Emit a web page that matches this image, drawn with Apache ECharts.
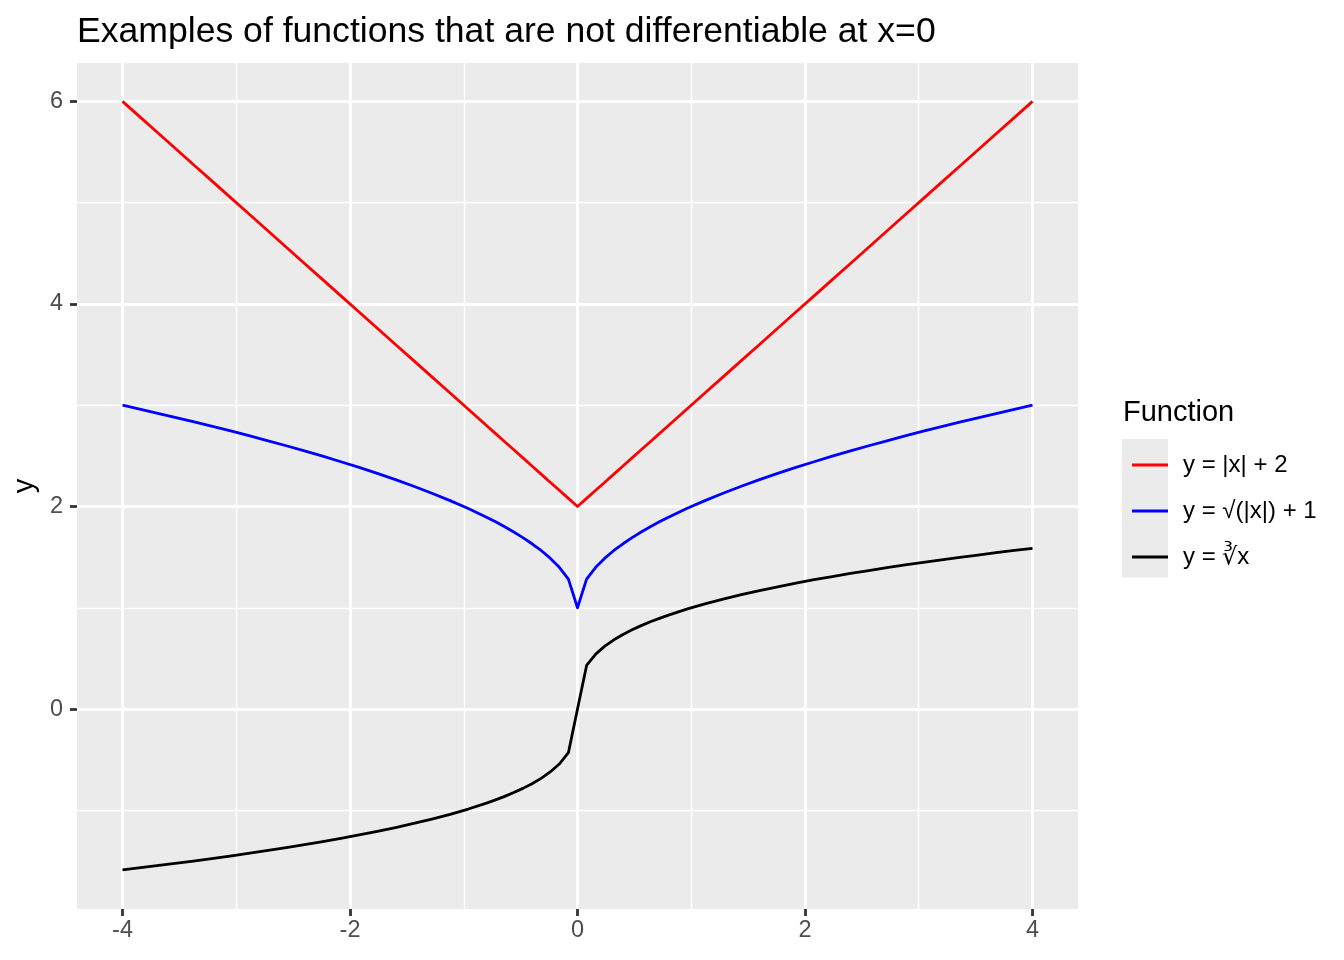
<!DOCTYPE html>
<html>
<head>
<meta charset="utf-8">
<script src="https://cdn.jsdelivr.net/npm/echarts@6/dist/echarts.min.js"></script>
<style>
html,body{margin:0;padding:0;background:#fff;}
#chart{width:1344px;height:960px;}
</style>
</head>
<body>
<div id="chart"></div>
<script>
// ---- data ----
const xValues = [-4, -3.84, -3.68, -3.52, -3.36, -3.2, -3.04, -2.88, -2.72, -2.56, -2.4, -2.24, -2.08, -1.92, -1.76, -1.6, -1.44, -1.28, -1.12, -0.96,
  -0.8, -0.72, -0.64, -0.56, -0.48, -0.4, -0.32, -0.24, -0.16, -0.08, 0,
  0.08, 0.16, 0.24, 0.32, 0.4, 0.48, 0.56, 0.64, 0.72, 0.8,
  0.96, 1.12, 1.28, 1.44, 1.6, 1.76, 1.92, 2.08, 2.24, 2.4, 2.56, 2.72, 2.88, 3.04, 3.2, 3.36, 3.52, 3.68, 3.84, 4];
const absPlus2 = [6.00, 5.84, 5.68, 5.52, 5.36, 5.20, 5.04, 4.88, 4.72, 4.56, 4.40, 4.24, 4.08, 3.92, 3.76, 3.60, 3.44, 3.28, 3.12, 2.96,
  2.80, 2.72, 2.64, 2.56, 2.48, 2.40, 2.32, 2.24, 2.16, 2.08, 2.00,
  2.08, 2.16, 2.24, 2.32, 2.40, 2.48, 2.56, 2.64, 2.72, 2.80,
  2.96, 3.12, 3.28, 3.44, 3.60, 3.76, 3.92, 4.08, 4.24, 4.40, 4.56, 4.72, 4.88, 5.04, 5.20, 5.36, 5.52, 5.68, 5.84, 6.00];
const sqrtAbsPlus1 = [3.000, 2.960, 2.918, 2.876, 2.833, 2.789, 2.744, 2.697, 2.649, 2.600, 2.549, 2.497, 2.442, 2.386, 2.327, 2.265, 2.200, 2.131, 2.058, 1.980,
  1.894, 1.849, 1.800, 1.748, 1.693, 1.632, 1.566, 1.490, 1.400, 1.283, 1.000,
  1.283, 1.400, 1.490, 1.566, 1.632, 1.693, 1.748, 1.800, 1.849, 1.894,
  1.980, 2.058, 2.131, 2.200, 2.265, 2.327, 2.386, 2.442, 2.497, 2.549, 2.600, 2.649, 2.697, 2.744, 2.789, 2.833, 2.876, 2.918, 2.960, 3.000];
const cubeRoot = [-1.587, -1.566, -1.544, -1.521, -1.498, -1.474, -1.449, -1.423, -1.396, -1.368, -1.339, -1.308, -1.277, -1.243, -1.207, -1.170, -1.129, -1.086, -1.039, -0.987,
  -0.928, -0.896, -0.862, -0.824, -0.783, -0.737, -0.684, -0.621, -0.543, -0.431, 0,
  0.431, 0.543, 0.621, 0.684, 0.737, 0.783, 0.824, 0.862, 0.896, 0.928,
  0.987, 1.039, 1.086, 1.129, 1.170, 1.207, 1.243, 1.277, 1.308, 1.339, 1.368, 1.396, 1.423, 1.449, 1.474, 1.498, 1.521, 1.544, 1.566, 1.587];
const seriesNames = ['y = |x| + 2', 'y = √(|x|) + 1', 'y = ∛x'];
const seriesColors = ['#FF0000', '#0000FF', '#000000'];
const xMajorTicks = [-4, -2, 0, 2, 4];
const xMinorTicks = [-3, -1, 1, 3];
const yMajorTicks = [0, 2, 4, 6];
const yMinorTicks = [-1, 1, 3, 5];

const FONT = "'Liberation Sans', Arial, Helvetica, sans-serif";
const pairs = ys => xValues.map((x, i) => [x, ys[i]]);
const allSeries = [absPlus2, sqrtAbsPlus1, cubeRoot];

const X_MIN = -4.4, X_MAX = 4.4, Y_MIN = -1.974, Y_MAX = 6.379;

const chart = echarts.init(document.getElementById('chart'), null, {renderer: 'canvas'});
chart.setOption({
  animation: false,
  backgroundColor: '#ffffff',
  title: [
    {
      text: 'Examples of functions that are not differentiable at x=0',
      left: 77, top: 14, padding: 0,
      textStyle: {fontFamily: FONT, fontSize: 35.6, fontWeight: 'normal', color: '#000000'}
    },
    {
      text: 'Function',
      left: 1123, top: 398, padding: 0,
      textStyle: {fontFamily: FONT, fontSize: 29, fontWeight: 'normal', color: '#000000'}
    }
  ],
  grid: {
    left: 77, right: 266, top: 63, bottom: 51,
    show: true, backgroundColor: '#EBEBEB', borderWidth: 0,
    outerBoundsMode: 'none', containLabel: false
  },
  legend: {
    orient: 'vertical',
    left: 1127, top: 448,
    itemWidth: 36, itemHeight: 3, itemGap: 22,
    icon: 'rect',
    selectedMode: false,
    data: seriesNames,
    textStyle: {fontFamily: FONT, fontSize: 24, color: '#000000', lineHeight: 24, padding: [0, 0, 0, 10]}
  },
  graphic: [
    {type: 'rect', left: 1122, top: 439, z: -1, shape: {width: 46, height: 138.5}, style: {fill: '#EBEBEB'}}
  ],
  xAxis: [
    {
      type: 'value', min: X_MIN, max: X_MAX, position: 'bottom',
      axisLine: {show: false, onZero: false},
      axisTick: {show: true, length: 7, customValues: xMajorTicks, lineStyle: {color: '#333333', width: 2.8}},
      axisLabel: {show: true, customValues: xMajorTicks, margin: 10, color: '#4D4D4D', fontFamily: FONT, fontSize: 23.5},
      splitLine: {show: true, lineStyle: {color: '#FFFFFF', width: 2.8}},
      z: 1
    },
    {
      type: 'value', min: X_MIN, max: X_MAX, position: 'top',
      axisLine: {show: false, onZero: false},
      axisTick: {show: false, customValues: xMinorTicks},
      axisLabel: {show: false},
      splitLine: {show: true, lineStyle: {color: '#FFFFFF', width: 1.4}},
      z: 0
    }
  ],
  yAxis: [
    {
      type: 'value', min: Y_MIN, max: Y_MAX, position: 'left',
      name: 'y', nameLocation: 'middle', nameRotate: 90, nameGap: 27,
      nameTextStyle: {fontFamily: FONT, fontSize: 29, color: '#000000'},
      axisLine: {show: false, onZero: false},
      axisTick: {show: true, length: 7, customValues: yMajorTicks, lineStyle: {color: '#333333', width: 2.8}},
      axisLabel: {show: true, customValues: yMajorTicks, margin: 14, color: '#4D4D4D', fontFamily: FONT, fontSize: 23.5},
      splitLine: {show: true, lineStyle: {color: '#FFFFFF', width: 2.8}},
      z: 1
    },
    {
      type: 'value', min: Y_MIN, max: Y_MAX, position: 'right',
      axisLine: {show: false, onZero: false},
      axisTick: {show: false, customValues: yMinorTicks},
      axisLabel: {show: false},
      splitLine: {show: true, lineStyle: {color: '#FFFFFF', width: 1.4}},
      z: 0
    }
  ],
  series: allSeries.map((ys, i) => ({
    name: seriesNames[i],
    type: 'line',
    xAxisIndex: 0, yAxisIndex: 0,
    data: pairs(ys),
    symbol: 'none', showSymbol: false,
    color: seriesColors[i],
    itemStyle: {color: seriesColors[i]},
    lineStyle: {color: seriesColors[i], width: 2.8, join: 'round', cap: 'butt'},
    z: 3,
    silent: true
  }))
});
</script>
</body>
</html>
